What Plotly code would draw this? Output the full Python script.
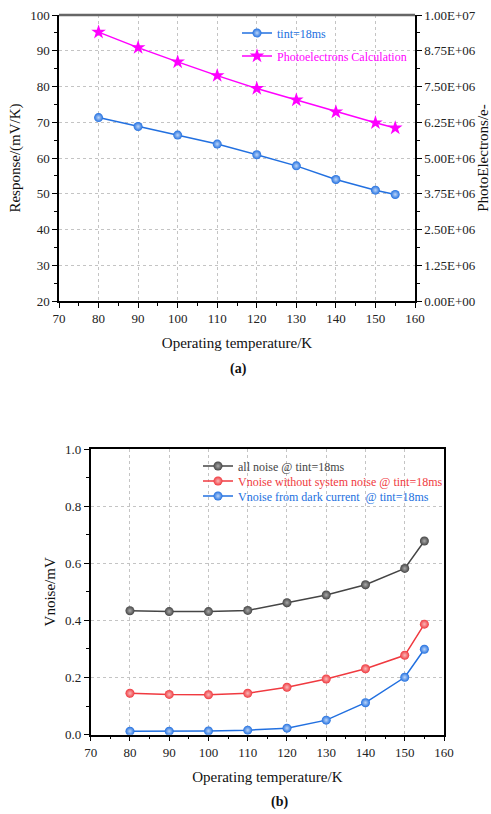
import plotly.graph_objects as go

# ---------------- data ----------------
temps = [80, 90, 100, 110, 120, 130, 140, 150, 155]
response = [71.3, 68.8, 66.4, 63.9, 60.9, 57.8, 54.0, 51.0, 49.8]
photoelectrons = [9.40e6, 8.86e6, 8.36e6, 7.88e6, 7.43e6, 7.03e6, 6.61e6, 6.23e6, 6.05e6]

all_noise = [0.434, 0.431, 0.431, 0.435, 0.462, 0.489, 0.525, 0.582, 0.678]
no_sys_noise = [0.145, 0.141, 0.140, 0.145, 0.166, 0.195, 0.231, 0.278, 0.387]
dark_noise = [0.012, 0.012, 0.013, 0.016, 0.023, 0.051, 0.112, 0.201, 0.299]

x_ticks = [70, 80, 90, 100, 110, 120, 130, 140, 150, 160]
right_tickvals = [0, 1.25e6, 2.5e6, 3.75e6, 5e6, 6.25e6, 7.5e6, 8.75e6, 1e7]
right_ticktext = ["0.00E+00", "1.25E+06", "2.50E+06", "3.75E+06", "5.00E+06",
                  "6.25E+06", "7.50E+06", "8.75E+06", "1.00E+07"]

names_a = ["tint=18ms", "Photoelectrons Calculation"]
names_b = ["all noise @ tint=18ms", "Vnoise without system noise @ tint=18ms",
           "Vnoise from dark current  @ tint=18ms"]

BLUE = "#2270e0"
MAG = "#ff00ff"
GRAY = "#454545"
RED = "#f03a40"
FONT = "Liberation Serif"

W, H = 491, 814


def px2x(p):
    return p / W


def px2y(p):
    return 1 - p / H


fig = go.Figure()

# ---- chart (a) ----
fig.add_trace(go.Scatter(
    x=temps, y=response, mode="lines+markers", xaxis="x", yaxis="y",
    name=f'<span style="color:{BLUE}">{names_a[0]}</span>', legend="legend",
    line=dict(color=BLUE, width=1.5),
    marker=dict(symbol="circle", size=9, color=BLUE,
                gradient=dict(type="radial", color="#bcd5f8"))))
fig.add_trace(go.Scatter(
    x=temps, y=photoelectrons, mode="lines+markers", xaxis="x", yaxis="y2",
    name=f'<span style="color:{MAG}">{names_a[1]}</span>', legend="legend2",
    line=dict(color=MAG, width=1.5),
    marker=dict(symbol="star", size=11, color=MAG)))

# ---- chart (b) ----
for vals, nm, col, lg in [(all_noise, names_b[0], GRAY, "legend3"),
                          (no_sys_noise, names_b[1], RED, "legend4"),
                          (dark_noise, names_b[2], BLUE, "legend5")]:
    light = {GRAY: "#aaaaaa", RED: "#f9b8b8", BLUE: "#bcd5f8"}[col]
    fig.add_trace(go.Scatter(
        x=temps, y=vals, mode="lines+markers", xaxis="x3", yaxis="y3",
        name=f'<span style="color:{col}">{nm}</span>', legend=lg,
        line=dict(color=col, width=1.5),
        marker=dict(symbol="circle", size=9, color=col,
                    gradient=dict(type="radial", color=light))))

tickfont = dict(family=FONT, size=13, color="#222")
titlefont = dict(family=FONT, size=15, color="#111")
grid = dict(showgrid=True, gridcolor="#c4c4c4", griddash="dot", gridwidth=1)

xa_common = dict(range=[70, 160], tickvals=x_ticks, ticks="outside", ticklen=5,
                 tickcolor="#000", showline=True, linecolor="#000", linewidth=1.5,
                 tickfont=tickfont, zeroline=False, automargin=False,
                 minor=dict(ticks="outside", ticklen=3, dtick=5, tick0=70,
                            tickcolor="#000", showgrid=False),
                 title=dict(text="Operating temperature/K", font=titlefont, standoff=12),
                 **grid)


def leg(xp, yp):
    return dict(x=px2x(xp), y=px2y(yp), xanchor="left", yanchor="middle",
                bgcolor="rgba(0,0,0,0)", font=dict(family=FONT, size=12),
                itemwidth=30)


layout = dict(
    width=W, height=H, margin=dict(l=0, r=0, t=0, b=0),
    paper_bgcolor="white", plot_bgcolor="white", showlegend=True,
    font=dict(family=FONT),
    xaxis=dict(domain=[px2x(59), px2x(415)], anchor="y", **xa_common),
    yaxis=dict(domain=[px2y(301), px2y(15)], anchor="x", range=[20, 100], dtick=10,
               ticks="outside", ticklen=5, tickcolor="#000", showline=True,
               linecolor="#000", linewidth=1.5, tickfont=tickfont, zeroline=False,
               automargin=False,
               minor=dict(ticks="outside", ticklen=3, dtick=5, tickcolor="#000",
                          showgrid=False),
               title=dict(text="Response/(mV/K)", font=titlefont, standoff=6), **grid),
    yaxis2=dict(overlaying="y", side="right", anchor="x", range=[0, 1e7],
                tickvals=right_tickvals, ticktext=right_ticktext, ticks="outside",
                ticklen=5, tickcolor="#000", showline=True, linecolor="#000",
                linewidth=1.5, tickfont=tickfont, showgrid=False, zeroline=False,
                automargin=False,
                minor=dict(ticks="outside", ticklen=3, dtick=625000, tick0=0,
                           tickcolor="#000"),
                title=dict(text="PhotoElectrons/e-", font=titlefont, standoff=0)),
    xaxis3=dict(domain=[px2x(90.7), px2x(444)], anchor="y3", mirror=True, **xa_common),
    yaxis3=dict(domain=[px2y(734.7), px2y(449)], anchor="x3", range=[0, 1.0],
                dtick=0.2, tickformat=".1f", ticks="outside", ticklen=5,
                tickcolor="#000", showline=True, mirror=True, linecolor="#000",
                linewidth=1.5, tickfont=tickfont, zeroline=False, automargin=False,
                minor=dict(ticks="outside", ticklen=3, dtick=0.1, tickcolor="#000",
                           showgrid=False),
                title=dict(text="Vnoise/mV", font=titlefont, standoff=6), **grid),
    legend=leg(237, 33),
    legend2=leg(237, 56),
    legend3=leg(198, 466),
    legend4=leg(198, 481),
    legend5=leg(198, 496),
    shapes=[dict(type="line", xref="paper", yref="paper", x0=px2x(59), x1=px2x(415),
                 y0=px2y(15), y1=px2y(15), line=dict(color="#666", width=2.5))],
    annotations=[
        dict(text="<b>(a)</b>", xref="paper", yref="paper", x=px2x(238), y=px2y(369),
             yanchor="middle", showarrow=False,
             font=dict(family=FONT, size=14, color="#111")),
        dict(text="<b>(b)</b>", xref="paper", yref="paper", x=px2x(279), y=px2y(802),
             yanchor="middle", showarrow=False,
             font=dict(family=FONT, size=14, color="#111")),
    ],
)
fig.update_layout(**layout)
fig.write_html("out.html")
